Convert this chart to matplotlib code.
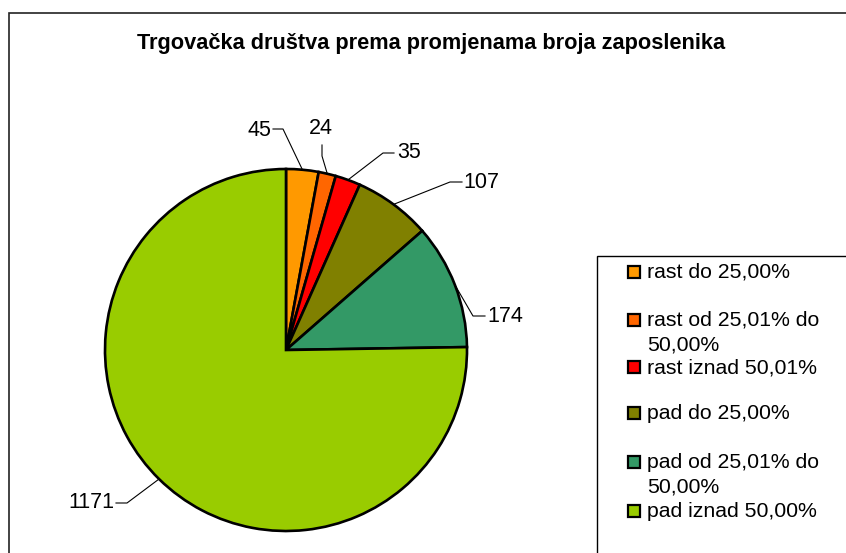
import numpy as np
import matplotlib
matplotlib.use("Agg")
import matplotlib.pyplot as plt
from matplotlib.patches import Rectangle

plt.rcParams['font.family'] = ['Liberation Sans', 'DejaVu Sans']

title = "Trgovačka društva prema promjenama broja zaposlenika"
categories = ["rast do 25,00%", "rast od 25,01% do\n50,00%", "rast iznad 50,01%",
              "pad do 25,00%", "pad od 25,01% do\n50,00%", "pad iznad 50,00%"]
values = [45, 24, 35, 107, 174, 1171]
colors = ["#FF9900", "#FF6600", "#FF0000", "#808000", "#339966", "#99CC00"]

W, H = 846, 553
CX, CY, R = 286, 350, 181  # pie centre / radius in pixels

# label text positions (pixels) and the elbow of each leader line
label_pos = [(259, 130), (321, 128), (409, 153), (481, 182), (505, 316), (91, 503)]
elbows = [[(273, 129), (283, 129)], [(322, 145), (322, 156)], [(394, 153), (383, 153)],
          [(462, 182), (450, 182)], [(485, 316), (473, 316)], [(116, 503), (127, 503)]]

fig = plt.figure(figsize=(W / 100, H / 100), dpi=100)

# outer chart border (cropped at right and bottom)
fig.patches.append(Rectangle((9 / W, -0.1), 1.0, 1 - 13 / H + 0.1, transform=fig.transFigure,
                             fill=False, ec='#222222', lw=1.2))

ax = fig.add_axes([(CX - R) / W, (H - CY - R) / H, 2 * R / W, 2 * R / H])
wedges, _ = ax.pie(values, colors=colors, startangle=90, counterclock=False, radius=1,
                   wedgeprops=dict(edgecolor='black', linewidth=1.9))
ax.set_xlim(-1, 1)
ax.set_ylim(-1, 1)
ax.set_aspect('equal')
ax.axis('off')


def to_data(px, py):
    return (px - CX) / R, (CY - py) / R


for w, v, (tx, ty), elb in zip(wedges, values, label_pos, elbows):
    mid = np.deg2rad((w.theta1 + w.theta2) / 2)
    anchor = (np.cos(mid), np.sin(mid))
    pts = [to_data(*p) for p in elb] + [anchor]
    ax.plot([p[0] for p in pts], [p[1] for p in pts], color='black', lw=0.8, clip_on=False)
    x, y = to_data(tx, ty)
    ax.text(x, y, str(v), ha='center', va='center', fontsize=15.5, clip_on=False)

fig.text(431 / W, 1 - 43 / H, title, ha='center', va='center', fontsize=15.7, fontweight='bold')

# legend, drawn by hand to mimic the spreadsheet layout
fig.patches.append(Rectangle((597 / W, -0.1), 1.0, 0.1 + (H - 256) / H, transform=fig.transFigure,
                             fill=False, ec='black', lw=1.0))
row_y = [272, 320, 367, 413, 462, 511]
for lab, col, ry in zip(categories, colors, row_y):
    fig.patches.append(Rectangle((628 / W, 1 - (ry + 6) / H), 12 / W, 12 / H, transform=fig.transFigure,
                                 fc=col, ec='black', lw=1.6))
    fig.text(647 / W, 1 - (ry - 9) / H, lab, ha='left', va='top', fontsize=15.3, linespacing=1.36)

fig.savefig("out.png", dpi=100)
